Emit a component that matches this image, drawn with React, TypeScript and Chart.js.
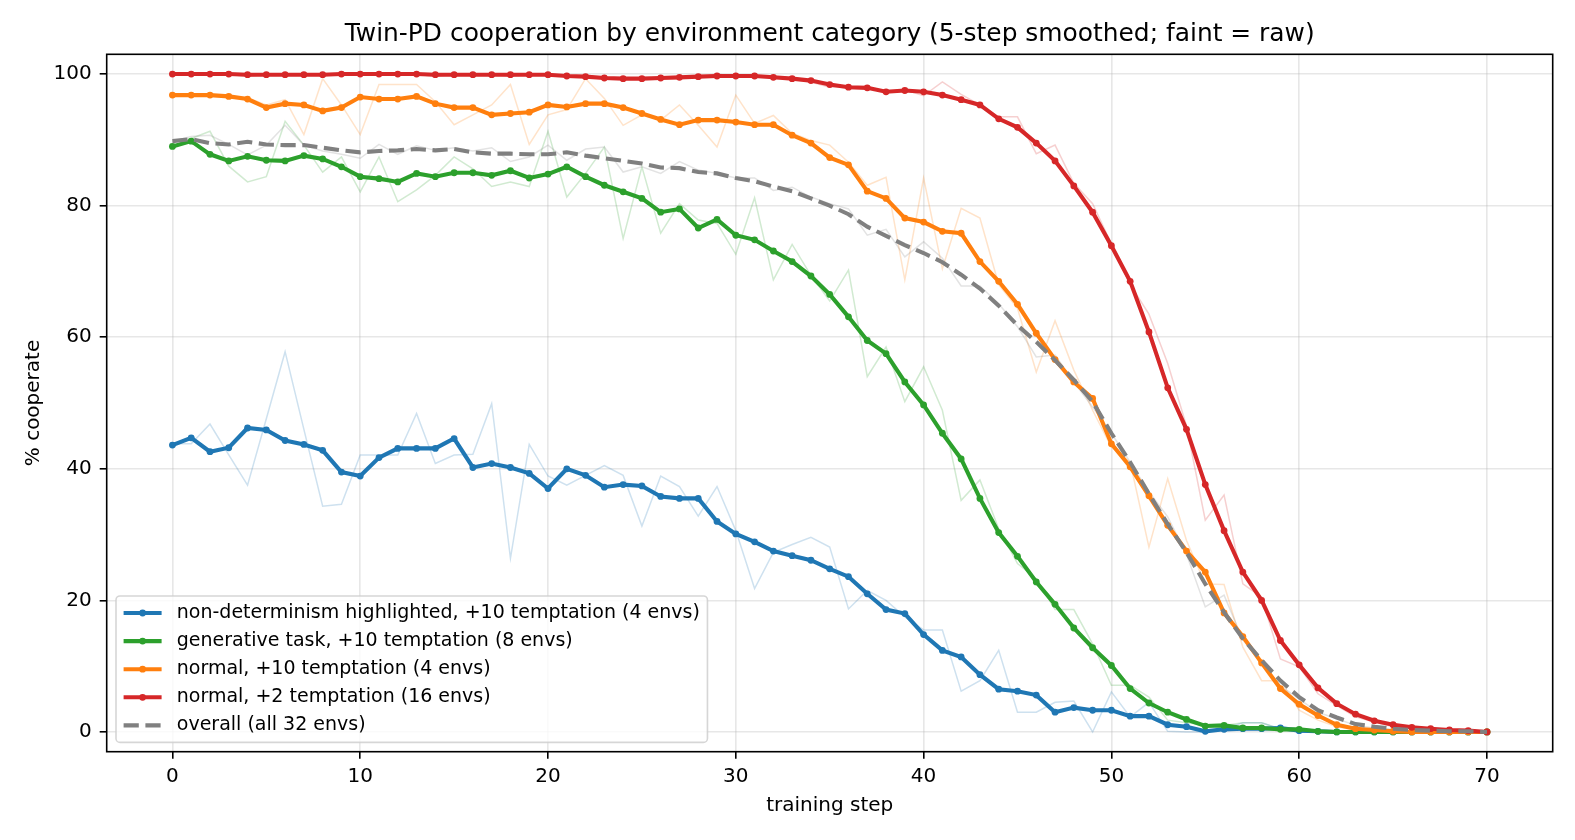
import { useEffect, useRef } from "react";
import { Chart, registerables } from "chart.js";

Chart.register(...registerables);

const FONT = '"DejaVu Sans", "Liberation Sans", sans-serif';

const steps = [
  0, 1, 2, 3, 4, 5, 6, 7, 8, 9, 10, 11, 12, 13, 14, 15, 16, 17, 18, 19, 20,
  21, 22, 23, 24, 25, 26, 27, 28, 29, 30, 31, 32, 33, 34, 35, 36, 37, 38, 39, 40,
  41, 42, 43, 44, 45, 46, 47, 48, 49, 50, 51, 52, 53, 54, 55, 56, 57, 58, 59, 60,
  61, 62, 63, 64, 65, 66, 67, 68, 69, 70,
];

const xTicks = [0, 10, 20, 30, 40, 50, 60, 70];
const yTicks = [0, 20, 40, 60, 80, 100];

const chartTitle = "Twin-PD cooperation by environment category (5-step smoothed; faint = raw)";

// non-determinism highlighted, +10 temptation
const blueSmooth = [
  43.6, 44.7, 42.6, 43.2, 46.2, 45.9, 44.3, 43.7, 42.8, 39.5, 38.9, 41.7, 43.1, 43.1, 43.1, 44.6, 40.2, 40.8, 40.2, 39.3, 37.0,
  40.0, 39.0, 37.2, 37.6, 37.4, 35.8, 35.5, 35.5, 32.0, 30.1, 28.9, 27.5, 26.8, 26.1, 24.8, 23.6, 21.0, 18.6, 18.0, 14.8,
  12.4, 11.4, 8.7, 6.5, 6.2, 5.6, 3.0, 3.7, 3.3, 3.3, 2.4, 2.4, 1.1, 0.8, 0.1, 0.4, 0.5, 0.5, 0.6, 0.2,
  0.1, 0, 0, 0, 0, 0, 0, 0, 0, 0,
];
const blueRaw = [
  43.8, 43.8, 46.8, 42.1, 37.5, 47.6, 57.8, 46.0, 34.3, 34.6, 42.1, 42.1, 42.1, 48.4, 40.8, 42.1, 42.2, 49.9, 26.4, 43.7, 38.9,
  37.5, 39.0, 40.5, 39.0, 31.3, 38.9, 37.3, 32.8, 37.3, 30.6, 21.8, 27.3, 28.5, 29.6, 28.1, 18.7, 21.5, 20.0, 17.5, 15.5,
  15.5, 6.2, 7.8, 12.4, 3.0, 3.0, 4.5, 4.7, 0, 6.1, 2.3, 4.5, 0.1, 0, 0, 0.5, 1.4, 1.4, 0.5, 0,
  0, 0, 0, 0, 0, 0, 0, 0, 0, 0,
];

// generative task, +10 temptation
const greenSmooth = [
  89.0, 89.8, 87.8, 86.8, 87.5, 86.9, 86.8, 87.6, 87.1, 85.9, 84.4, 84.1, 83.6, 84.9, 84.4, 85.0, 85.0, 84.6, 85.3, 84.2, 84.8,
  85.9, 84.4, 83.1, 82.1, 81.1, 79.0, 79.5, 76.6, 77.9, 75.5, 74.8, 73.1, 71.5, 69.3, 66.5, 63.1, 59.5, 57.5, 53.2, 49.7,
  45.4, 41.5, 35.5, 30.3, 26.7, 22.8, 19.4, 15.8, 12.8, 10.1, 6.6, 4.4, 3.0, 1.9, 0.9, 1.0, 0.6, 0.6, 0.4, 0.4,
  0.1, 0, 0, 0, 0, 0, 0, 0, 0, 0,
];
const greenRaw = [
  89.0, 90.2, 91.3, 86.0, 83.6, 84.4, 92.8, 89.2, 85.1, 87.4, 82.1, 87.4, 80.6, 82.4, 84.6, 87.4, 85.6, 82.9, 83.6, 82.9, 91.3,
  81.3, 84.9, 88.9, 75.0, 85.9, 75.8, 80.3, 77.8, 77.3, 72.6, 81.2, 68.7, 74.1, 69.4, 65.5, 70.2, 54.0, 58.5, 50.2, 55.5,
  48.9, 35.2, 38.3, 30.9, 25.6, 23.3, 18.6, 18.6, 13.4, 7.1, 7.1, 5.3, 1.8, 1.4, 1.1, 1.0, 1.4, 1.4, 0.4, 0,
  0, 0, 0, 0, 0, 0, 0, 0, 0, 0,
];

// normal, +10 temptation
const orangeSmooth = [
  96.8, 96.8, 96.8, 96.6, 96.2, 94.9, 95.5, 95.3, 94.4, 94.9, 96.5, 96.2, 96.2, 96.6, 95.5, 94.9, 94.9, 93.8, 94.0, 94.2, 95.3,
  95.0, 95.5, 95.5, 94.9, 94.0, 93.1, 92.3, 93.0, 93.0, 92.7, 92.3, 92.3, 90.7, 89.5, 87.3, 86.2, 82.2, 81.1, 78.1, 77.5,
  76.1, 75.8, 71.5, 68.5, 65.0, 60.6, 56.6, 53.2, 50.7, 43.8, 40.3, 35.9, 31.4, 27.5, 24.3, 18.1, 14.5, 10.5, 6.6, 4.2,
  2.5, 1.1, 0.5, 0.3, 0.1, 0, 0, 0, 0, 0,
];
const orangeRaw = [
  96.8, 96.9, 96.9, 96.6, 96.4, 95.3, 96.1, 90.8, 99.3, 95.3, 90.8, 98.4, 98.4, 98.4, 95.8, 92.3, 93.8, 95.3, 98.4, 89.3, 93.8,
  94.6, 99.3, 96.3, 92.2, 93.8, 93.0, 95.3, 92.2, 88.9, 96.8, 92.5, 93.7, 91.0, 89.9, 89.2, 86.6, 83.1, 84.3, 68.7, 84.2,
  70.4, 79.6, 78.1, 68.0, 64.4, 54.7, 62.5, 55.0, 48.9, 43.3, 41.0, 28.1, 38.5, 29.1, 22.5, 22.4, 12.9, 7.8, 7.8, 3.3,
  1.8, 0.8, 0.3, 0, 0, 0, 0, 0, 0, 0,
];

// normal, +2 temptation
const redSmooth = [
  100, 100, 100, 100, 99.9, 99.9, 99.9, 99.9, 99.9, 100, 100, 100, 100, 100, 99.9, 99.9, 99.9, 99.9, 99.9, 99.9, 99.9,
  99.7, 99.6, 99.4, 99.3, 99.3, 99.4, 99.5, 99.6, 99.7, 99.7, 99.7, 99.5, 99.3, 99.0, 98.4, 98.0, 97.9, 97.3, 97.5, 97.3,
  96.8, 96.1, 95.3, 93.2, 91.9, 89.5, 86.8, 83.0, 79.0, 73.9, 68.5, 60.8, 52.3, 46.0, 37.6, 30.6, 24.3, 20.0, 13.9, 10.2,
  6.7, 4.3, 2.7, 1.7, 1.1, 0.7, 0.5, 0.3, 0.2, 0.0,
];
const redRaw = [
  100, 100, 100, 100, 99.6, 100, 100, 100, 100, 100, 100, 100, 100, 100, 99.6, 100, 100, 100, 99.6, 100, 100,
  99.6, 99.6, 99.2, 99.2, 99.2, 99.6, 99.6, 99.6, 100, 99.6, 99.6, 99.6, 99.2, 98.8, 98.0, 98.0, 98.0, 97.3, 97.6, 96.7,
  98.8, 96.9, 95.3, 93.5, 93.5, 87.9, 89.2, 83.4, 80.3, 74.2, 68.0, 63.5, 56.0, 46.5, 32.2, 36.0, 22.5, 20.5, 11.1, 9.9,
  5.8, 4.0, 2.3, 1.5, 0.8, 0.5, 0.5, 0.2, 0.2, 0,
];

// overall (all 32 envs)
const overallSmooth = [
  89.8, 90.1, 89.5, 89.3, 89.7, 89.3, 89.2, 89.2, 88.8, 88.4, 88.1, 88.3, 88.4, 88.6, 88.4, 88.6, 88.1, 87.9, 87.9, 87.8, 87.8,
  88.1, 87.6, 87.2, 86.8, 86.4, 85.8, 85.7, 85.1, 84.9, 84.2, 83.7, 82.9, 82.2, 81.1, 80.0, 78.7, 76.8, 75.4, 74.0, 72.8,
  71.4, 69.5, 67.4, 64.8, 61.8, 59.3, 56.5, 53.5, 50.2, 45.4, 41.0, 36.2, 31.6, 27.3, 22.5, 18.2, 14.2, 10.9, 7.8, 5.3,
  3.3, 2.2, 1.2, 0.8, 0.5, 0.3, 0.2, 0.1, 0.1, 0,
];
const overallRaw = [
  89.8, 90.5, 90.7, 89.3, 87.7, 89.2, 92.2, 89.2, 88.3, 87.8, 87.2, 89.3, 87.8, 89.1, 88.4, 88.8, 88.3, 88.8, 86.7, 87.4, 89.2,
  86.9, 88.6, 88.9, 85.1, 85.9, 84.9, 86.7, 85.4, 84.9, 84.2, 84.2, 82.3, 82.8, 81.3, 80.3, 79.5, 75.5, 76.4, 72.2, 74.5,
  72.0, 67.8, 67.8, 65.1, 61.6, 57.0, 57.3, 53.2, 49.4, 45.4, 41.0, 36.5, 32.7, 27.0, 19.0, 20.8, 14.0, 10.5, 7.0, 5.0,
  3.0, 2.0, 1.0, 0.6, 0.4, 0.2, 0.2, 0, 0.1, 0,
];

const categories = [
  { label: "non-determinism highlighted, +10 temptation (4 envs)", color: "#1f77b4", faint: "rgba(31,119,180,0.22)", smooth: blueSmooth, raw: blueRaw },
  { label: "generative task, +10 temptation (8 envs)", color: "#2ca02c", faint: "rgba(44,160,44,0.22)", smooth: greenSmooth, raw: greenRaw },
  { label: "normal, +10 temptation (4 envs)", color: "#ff7f0e", faint: "rgba(255,127,14,0.22)", smooth: orangeSmooth, raw: orangeRaw },
  { label: "normal, +2 temptation (16 envs)", color: "#d62728", faint: "rgba(214,39,40,0.22)", smooth: redSmooth, raw: redRaw },
];
const overallLabel = "overall (all 32 envs)";

const LINE_W = 4.1;
const DASH = [15.2, 6.6];
const MARKER_R = 3.4;

const toPoints = (ys: number[]) => steps.map((x, i) => ({ x, y: ys[i] }));

// matplotlib-style frame, title over the axes, and legend inside the axes
const frameAndLegend = {
  id: "frameAndLegend",
  afterDraw(chart: any) {
    const { ctx, chartArea: a } = chart;
    ctx.save();

    // spines
    ctx.strokeStyle = "#000";
    ctx.lineWidth = 1.6;
    ctx.strokeRect(a.left, a.top, a.right - a.left, a.bottom - a.top);

    // title centred over the plot area
    ctx.font = `24.9px ${FONT}`;
    ctx.fillStyle = "#000";
    ctx.textAlign = "center";
    ctx.textBaseline = "middle";
    ctx.fillText(chartTitle, (a.left + a.right) / 2, 35);

    // legend inside lower-left corner
    const fs = 19;
    ctx.font = `${fs}px ${FONT}`;
    const items = [
      ...categories.map((c) => ({ label: c.label, color: c.color, dashed: false })),
      { label: overallLabel, color: "#808080", dashed: true },
    ];
    const textW = Math.max(...items.map((it) => ctx.measureText(it.label).width));
    const pad = 0.4 * fs;
    const handleLen = 2 * fs;
    const handlePad = 0.8 * fs;
    const rowH = 18.8;
    const spacing = 9.3;
    const boxW = 2 * pad + handleLen + handlePad + textW;
    const boxH = 2 * pad + items.length * rowH + (items.length - 1) * spacing;
    const x0 = a.left + 9.3;
    const y0 = a.bottom - 9.3 - boxH;

    ctx.beginPath();
    ctx.roundRect(x0, y0, boxW, boxH, 4);
    ctx.fillStyle = "rgba(255,255,255,0.8)";
    ctx.fill();
    ctx.strokeStyle = "rgba(204,204,204,0.8)";
    ctx.lineWidth = 1.6;
    ctx.stroke();

    items.forEach((it, i) => {
      const cy = y0 + pad + rowH / 2 + i * (rowH + spacing);
      const hx = x0 + pad;
      ctx.beginPath();
      ctx.moveTo(hx, cy);
      ctx.lineTo(hx + handleLen, cy);
      ctx.strokeStyle = it.color;
      ctx.lineWidth = LINE_W;
      ctx.setLineDash(it.dashed ? DASH : []);
      ctx.lineCap = "butt";
      ctx.stroke();
      ctx.setLineDash([]);
      if (!it.dashed) {
        ctx.beginPath();
        ctx.arc(hx + handleLen / 2, cy, MARKER_R, 0, Math.PI * 2);
        ctx.fillStyle = it.color;
        ctx.fill();
      }
      ctx.fillStyle = "#000";
      ctx.textBaseline = "middle";
      ctx.textAlign = "left";
      ctx.fillText(it.label, hx + handleLen + handlePad, cy);
    });

    ctx.restore();
  },
};

export default function App() {
  const canvasRef = useRef<HTMLCanvasElement>(null);
  const chartRef = useRef<Chart | null>(null);

  useEffect(() => {
    if (!canvasRef.current) return;
    if (chartRef.current) chartRef.current.destroy();

    const rawSets = categories.map((c, i) => ({
      label: c.label + " raw",
      data: toPoints(c.raw),
      borderColor: c.faint,
      borderWidth: 1.5,
      pointRadius: 0,
      tension: 0,
      order: 10 + i,
    }));
    const smoothSets = categories.map((c, i) => ({
      label: c.label,
      data: toPoints(c.smooth),
      borderColor: c.color,
      backgroundColor: c.color,
      borderWidth: LINE_W,
      pointRadius: MARKER_R,
      pointBorderWidth: 0,
      pointBackgroundColor: c.color,
      tension: 0,
      order: 5 - i,
    }));

    const gridColor = "rgba(176,176,176,0.3)";
    const tickFont = { family: FONT, size: 20 };

    chartRef.current = new Chart(canvasRef.current, {
      type: "line",
      data: {
        datasets: [
          ...rawSets,
          {
            label: "overall raw",
            data: toPoints(overallRaw),
            borderColor: "rgba(128,128,128,0.22)",
            borderWidth: 1.5,
            pointRadius: 0,
            tension: 0,
            order: 9,
          },
          ...smoothSets,
          {
            label: overallLabel,
            data: toPoints(overallSmooth),
            borderColor: "#808080",
            borderWidth: LINE_W,
            borderDash: DASH,
            pointRadius: 0,
            tension: 0,
            order: 0,
          },
        ],
      },
      options: {
        responsive: true,
        maintainAspectRatio: false,
        animation: false,
        events: [],
        layout: { padding: { left: 0, right: 22.3, top: 54.3, bottom: 0 } },
        plugins: {
          legend: { display: false },
          tooltip: { enabled: false },
          title: { display: false },
        },
        scales: {
          x: {
            type: "linear",
            min: -3.5,
            max: 73.5,
            afterBuildTicks: (s: any) => {
              s.ticks = xTicks.map((v) => ({ value: v }));
            },
            afterFit: (s: any) => {
              s.height = 88.3;
            },
            ticks: { color: "#000", font: tickFont, padding: 6, autoSkip: false, maxRotation: 0 },
            grid: { color: gridColor, lineWidth: 1.6, tickLength: 7, tickColor: "#000", tickWidth: 1.6 },
            border: { display: false },
            title: {
              display: true,
              text: "training step",
              color: "#000",
              font: tickFont,
              padding: { top: 0, bottom: 22 },
            },
          },
          y: {
            type: "linear",
            min: -3,
            max: 103,
            afterBuildTicks: (s: any) => {
              s.ticks = yTicks.map((v) => ({ value: v }));
            },
            afterFit: (s: any) => {
              s.width = 106.7;
            },
            ticks: { color: "#000", font: tickFont, padding: 8 },
            grid: { color: gridColor, lineWidth: 1.6, tickLength: 7, tickColor: "#000", tickWidth: 1.6 },
            border: { display: false },
            title: {
              display: true,
              text: "% cooperate",
              color: "#000",
              font: tickFont,
              padding: { top: 22, bottom: 0 },
            },
          },
        },
      },
      plugins: [frameAndLegend],
    } as any);

    return () => {
      if (chartRef.current) {
        chartRef.current.destroy();
        chartRef.current = null;
      }
    };
  }, []);

  return (
    <div style={{ position: "fixed", left: 0, top: 0, width: 1575, height: 840, background: "#fff" }}>
      <canvas ref={canvasRef}></canvas>
    </div>
  );
}
